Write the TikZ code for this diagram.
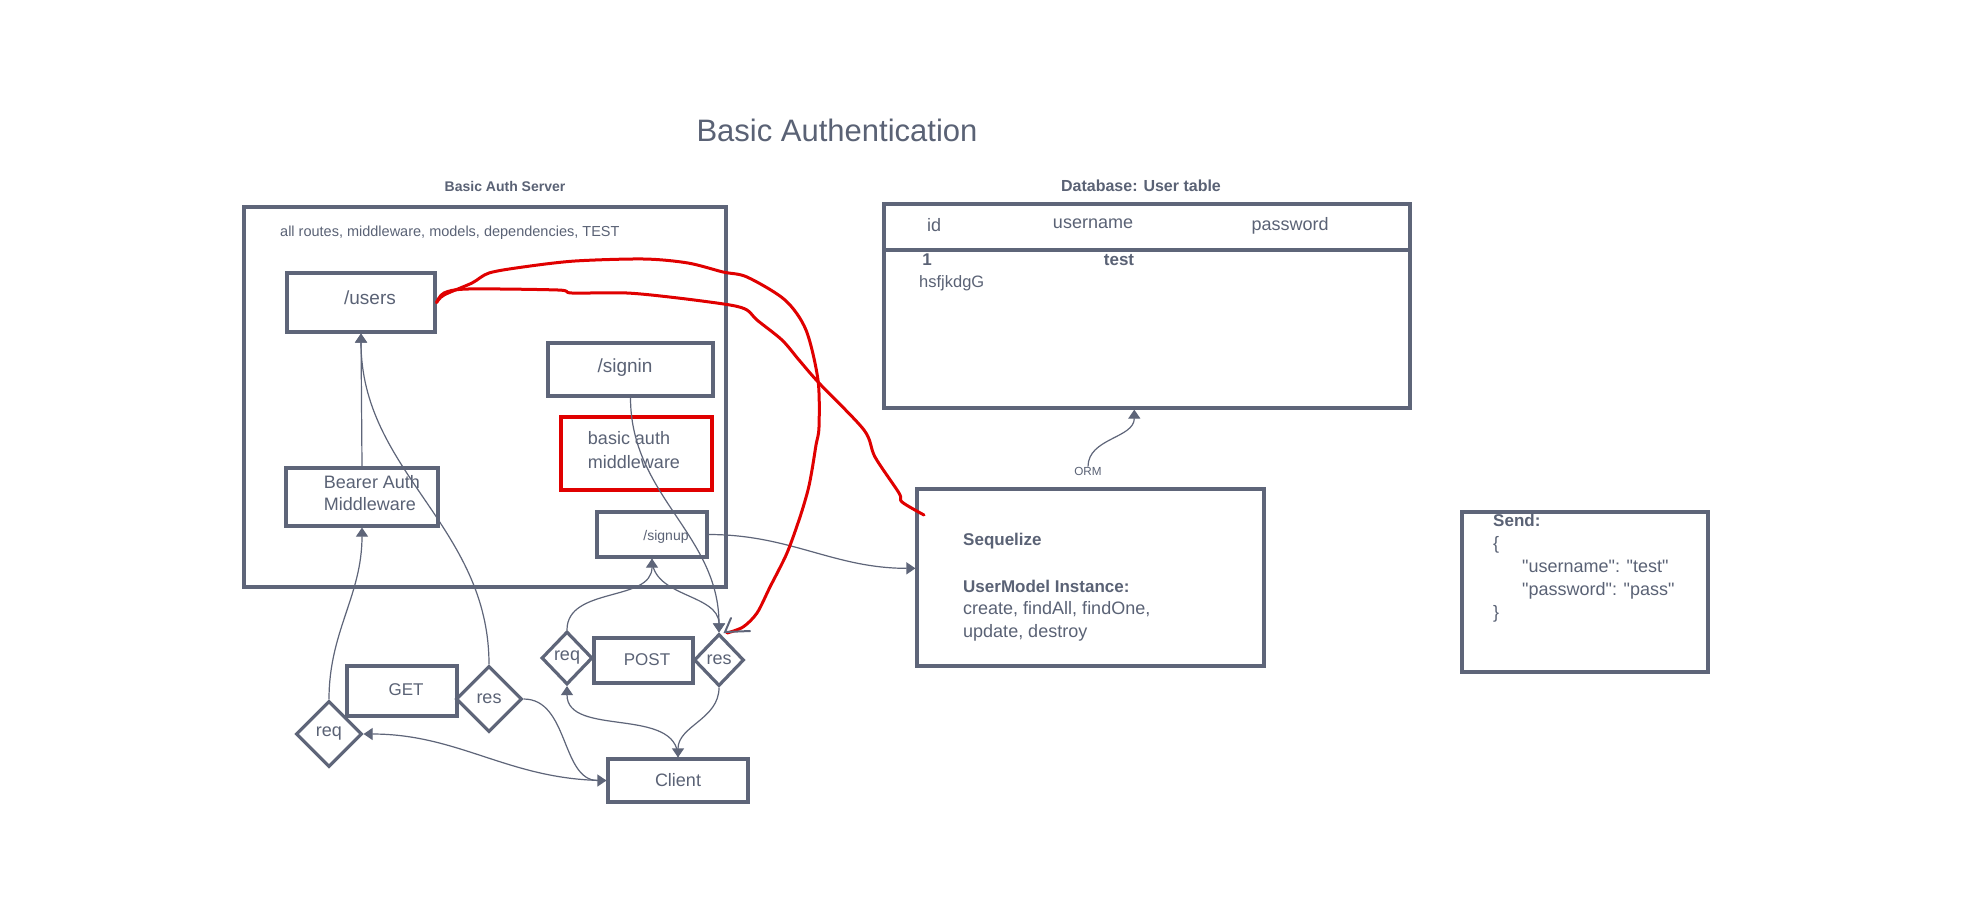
\documentclass[tikz,border=0pt]{standalone}
\usepackage{fontspec}
\setmainfont{Liberation Sans}[Ligatures=TeXOff]
\usetikzlibrary{shapes.geometric,arrows.meta}
\definecolor{inkgray}{HTML}{5A6275}
\definecolor{framegray}{HTML}{5E6579}
\definecolor{scribblered}{HTML}{E00000}
\newcommand{\fs}[2]{\fontsize{#1}{#2}\selectfont}
\tikzset{
  box/.style={draw=framegray, line width=3.2pt, inner sep=0pt, text=inkgray, font=\fs{18}{22}, align=left},
  gate/.style={draw=framegray, line width=3.2pt, diamond, inner sep=0pt, text=inkgray, font=\fs{18}{22}},
  txt/.style={inner sep=0pt, text=inkgray},
  flow/.style={draw=framegray, line width=1.2pt, -{Triangle[width=12pt,length=9pt]}},
  scribble/.style={draw=scribblered, line width=3pt, line cap=round, line join=round},
}
\begin{document}
\begin{tikzpicture}[x=1pt,y=-1pt]
  \fill[white] (0,0) rectangle (1969,914);
  \useasboundingbox (0,0) rectangle (1969,914);

  % headings
  \node[txt, font=\fs{31}{36}] (title) at (837,130) {Basic Authentication};
  \node[txt, font=\bfseries\fs{14}{17}] (servertitle) at (505,186) {Basic Auth Server};
  \node[txt, font=\bfseries\fs{16}{19}] (dbtitle) at (1141,186) {Database: User table};

  % server and its routes
  \node[box, minimum width=482pt, minimum height=380pt] (server) at (485,397) {};
  \node[txt, anchor=west, font=\fs{14.5}{17}] (scope) at (280,233) {all routes, middleware, models, dependencies, TEST};
  \node[box, minimum width=148pt, minimum height=59pt] (users) at (361,302.5) {};
  \node[txt, font=\fs{19}{23}] (userstxt) at (370,298) {/users};
  \node[box, font=\fs{19}{23}, minimum width=165pt, minimum height=53pt] (signin) at (630.5,369.5) {};
  \node[txt, font=\fs{19}{23}] (signintxt) at (625,368) {/signin};
  \node[box, draw=scribblered, minimum width=151pt, minimum height=73pt] (basicauth) at (636.5,453.5) {};
  \node[txt, align=left, font=\fs{18}{24}] (basicauthtxt) at (634,450) {basic auth\\middleware};
  \node[box, minimum width=152pt, minimum height=58pt] (bearer) at (362,497) {};
  \node[txt, align=left, font=\fs{18}{22}] (bearertxt) at (372,493) {Bearer Auth\\Middleware};
  \node[box, minimum width=110pt, minimum height=45pt] (signup) at (652,534.5) {};
  \node[txt, font=\fs{14}{17}] (signuptxt) at (666,537) {/signup};

  % requests
  \node[gate, minimum width=66pt, minimum height=66pt] (reqg) at (329,734) {req};
  \node[box, font=\fs{17}{20}, minimum width=110pt, minimum height=50pt] (get) at (402,691) {};
  \node[txt, font=\fs{17}{20}] (gettxt) at (406,690) {GET};
  \node[gate, minimum width=66pt, minimum height=66pt] (resg) at (489,699) {res};
  \node[gate, minimum width=51pt, minimum height=53pt] (reqp) at (567,658) {req};
  \node[box, minimum width=99pt, minimum height=45pt] (post) at (643.5,660.5) {};
  \node[txt, font=\fs{17}{20}] (posttxt) at (647,660) {POST};
  \node[gate, minimum width=50pt, minimum height=52pt] (resp) at (719,660) {res};
  \node[box, minimum width=140pt, minimum height=43pt] (client) at (678,780.5) {Client};

  % database
  \node[box, minimum width=526pt, minimum height=204pt] (db) at (1147,306) {};
  \draw[framegray, line width=3.2pt] (db.west |- 0,250) -- (db.east |- 0,250);
  \node[txt, font=\fs{18}{22}] (colid) at (934,225) {id};
  \node[txt, font=\fs{18}{22}] (colname) at (1093,224) {username};
  \node[txt, font=\fs{18}{22}] (colpass) at (1290,226) {password};
  \node[txt, font=\bfseries\fs{17}{20}] (rowid) at (927,260) {1};
  \node[txt, font=\bfseries\fs{17}{20}] (rowname) at (1119,260) {test};
  \node[txt, anchor=west, font=\fs{16.5}{20}] (rowpass) at (919,283) {hsfjkdgG};

  % sequelize
  \node[box, minimum width=347pt, minimum height=177pt] (seq) at (1090.5,577.5) {};
  \node[txt, anchor=west, font=\bfseries\fs{17}{20}] (seqname) at (963,541) {Sequelize};
  \node[txt, anchor=west, align=left, font=\fs{18}{22.5}] (seqapi) at (963,610.5)
    {\bfseries\fs{17}{22.5}UserModel Instance:\\create, findAll, findOne,\\update, destroy};
  \node[txt, font=\fs{11.7}{14}] (orm) at (1088,471) {ORM};

  % payload
  \node[box, minimum width=246pt, minimum height=160pt] (send) at (1585,592) {};
  \node[txt, anchor=west, align=left, font=\fs{18}{23}] (sendtxt) at (1493,568.5)
    {\textbf{\fs{17}{23}Send:}\\\{\\\hspace*{29pt}"username": "test"\\\hspace*{29pt}"password": "pass"\\\}};

  % connectors
  \draw[flow] (bearer.north) -- (users.south);
  \draw[flow] (reqg.north) to[out=90,in=-90] (bearer.south);
  \draw[flow] (resg.north) to[out=90,in=-90] (users.south);
  \draw[flow] (resg.east) to[out=0,in=180] (client.west);
  \draw[flow] (client.west) to[out=180,in=0] (reqg.east);
  \draw[flow] (reqp.north) to[out=90,in=-90] (signup.south);
  \draw[flow] (signup.south) to[out=-90,in=90] (resp.north);
  \draw[flow] (signin.south) to[out=-90,in=90] (resp.north);
  \draw[flow] (client.north) to[out=90,in=-90] (reqp.south);
  \draw[flow] (resp.south) to[out=-90,in=90] (client.north);
  \draw[flow] (signup.east) to[out=0,in=180] (seq.177);
  \draw[flow] (orm.north) to[out=90,in=-90] (db.263);

  % red scribbles
  \draw[scribble] plot[smooth, tension=0.5] coordinates {(users.east) (444,295) (472,283) (489,273)
    (523,267) (575,261) (644,259) (688,263) (723,272) (747,277) (785,300) (806,330) (818,380)
    (819,427) (816,445) (812,470) (808,490) (800,517) (787,553) (770,587) (757,613) (743,627) (727,633)};
  \draw[scribble] plot[smooth, tension=0.5] coordinates {(users.east) (444,293) (468,289) (558,290)
    (572,293) (627,293) (678,298) (730,305) (747,310) (757,320) (782,340) (799,360) (819,383)
    (864,430) (875,457) (899,493) (902,502) (924,515)};
  \draw[framegray, line width=2pt, line cap=round] (731,618) -- (725,632) -- (750,631);
\end{tikzpicture}
\end{document}
